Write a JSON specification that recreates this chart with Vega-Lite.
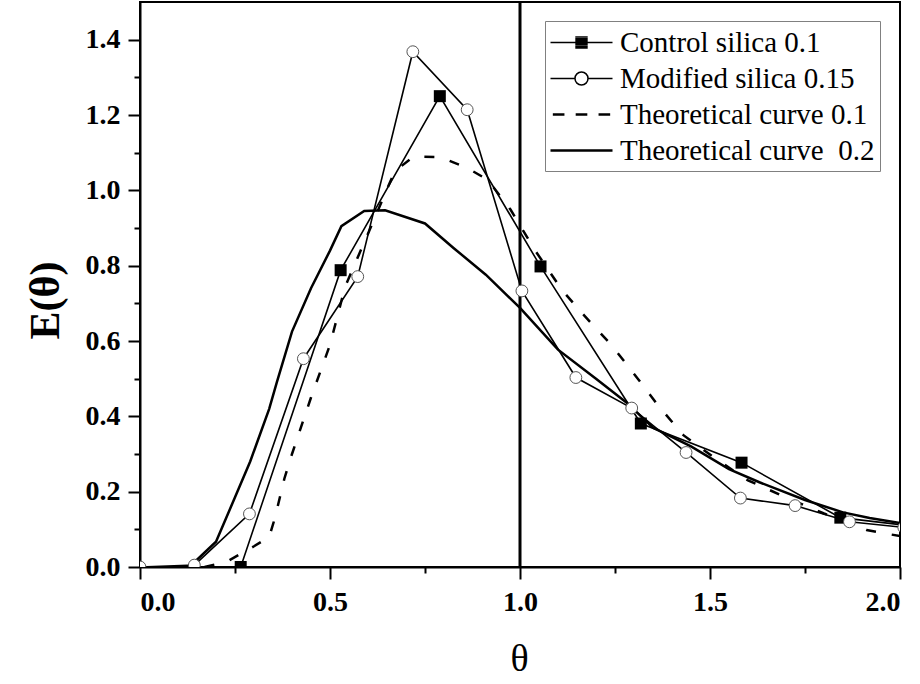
{
  "$schema": "https://vega.github.io/schema/vega-lite/v6.json",
  "width": 760,
  "height": 565,
  "autosize": {"type": "none"},
  "padding": {"left": 140, "top": 2, "right": 20, "bottom": 117},
  "background": "white",
  "config": {
    "view": {"stroke": "black", "strokeWidth": 2},
    "axis": {
      "domainColor": "black", "domainWidth": 2, "tickColor": "black", "tickWidth": 2, "grid": false,
      "labelFont": "Liberation Serif", "labelFontWeight": "bold", "labelFontSize": 28, "labelColor": "black",
      "titleFont": "Liberation Serif", "titleColor": "black"
    },
    "legend": {
      "orient": "none", "legendX": 405, "legendY": 19,
      "padding": 5, "strokeColor": "#808080", "strokeWidth": 1, "fillColor": "white",
      "rowPadding": 4, "labelFont": "Liberation Serif", "labelFontSize": 29, "labelColor": "black", "labelLimit": 0,
      "symbolSize": 961, "symbolStrokeWidth": 1.5, "symbolStrokeColor": "black", "symbolFillColor": "transparent",
      "symbolOffset": 15, "labelOffset": 22, "symbolOpacity": 1
    }
  },
  "datasets": {
    "series": [
      {"series": "Control silica 0.1", "x": 0.265, "y": 0.0},
      {"series": "Control silica 0.1", "x": 0.528, "y": 0.788},
      {"series": "Control silica 0.1", "x": 0.789, "y": 1.25},
      {"series": "Control silica 0.1", "x": 1.054, "y": 0.798},
      {"series": "Control silica 0.1", "x": 1.318, "y": 0.381},
      {"series": "Control silica 0.1", "x": 1.583, "y": 0.277},
      {"series": "Control silica 0.1", "x": 1.843, "y": 0.131},
      {"series": "Control silica 0.1", "x": 2.107, "y": 0.1},
      {"series": "Modified silica 0.15", "x": 0.0, "y": 0.0},
      {"series": "Modified silica 0.15", "x": 0.143, "y": 0.005},
      {"series": "Modified silica 0.15", "x": 0.288, "y": 0.141},
      {"series": "Modified silica 0.15", "x": 0.43, "y": 0.553},
      {"series": "Modified silica 0.15", "x": 0.573, "y": 0.771},
      {"series": "Modified silica 0.15", "x": 0.718, "y": 1.368},
      {"series": "Modified silica 0.15", "x": 0.861, "y": 1.214},
      {"series": "Modified silica 0.15", "x": 1.005, "y": 0.733},
      {"series": "Modified silica 0.15", "x": 1.147, "y": 0.503},
      {"series": "Modified silica 0.15", "x": 1.294, "y": 0.422},
      {"series": "Modified silica 0.15", "x": 1.437, "y": 0.304},
      {"series": "Modified silica 0.15", "x": 1.58, "y": 0.183},
      {"series": "Modified silica 0.15", "x": 1.724, "y": 0.163},
      {"series": "Modified silica 0.15", "x": 1.867, "y": 0.12},
      {"series": "Modified silica 0.15", "x": 2.01, "y": 0.105},
      {"series": "Theoretical curve 0.1", "x": 0.17, "y": 0.0},
      {"series": "Theoretical curve 0.1", "x": 0.23, "y": 0.015},
      {"series": "Theoretical curve 0.1", "x": 0.3, "y": 0.055},
      {"series": "Theoretical curve 0.1", "x": 0.34, "y": 0.08},
      {"series": "Theoretical curve 0.1", "x": 0.355, "y": 0.13},
      {"series": "Theoretical curve 0.1", "x": 0.38, "y": 0.235},
      {"series": "Theoretical curve 0.1", "x": 0.4, "y": 0.3},
      {"series": "Theoretical curve 0.1", "x": 0.45, "y": 0.45},
      {"series": "Theoretical curve 0.1", "x": 0.5, "y": 0.59},
      {"series": "Theoretical curve 0.1", "x": 0.54, "y": 0.745},
      {"series": "Theoretical curve 0.1", "x": 0.6, "y": 0.885},
      {"series": "Theoretical curve 0.1", "x": 0.67, "y": 1.05},
      {"series": "Theoretical curve 0.1", "x": 0.72, "y": 1.09},
      {"series": "Theoretical curve 0.1", "x": 0.79, "y": 1.088},
      {"series": "Theoretical curve 0.1", "x": 0.86, "y": 1.06},
      {"series": "Theoretical curve 0.1", "x": 0.915, "y": 1.028},
      {"series": "Theoretical curve 0.1", "x": 0.975, "y": 0.949},
      {"series": "Theoretical curve 0.1", "x": 1.04, "y": 0.84},
      {"series": "Theoretical curve 0.1", "x": 1.11, "y": 0.736},
      {"series": "Theoretical curve 0.1", "x": 1.165, "y": 0.672},
      {"series": "Theoretical curve 0.1", "x": 1.24, "y": 0.59},
      {"series": "Theoretical curve 0.1", "x": 1.31, "y": 0.5},
      {"series": "Theoretical curve 0.1", "x": 1.36, "y": 0.433},
      {"series": "Theoretical curve 0.1", "x": 1.43, "y": 0.35},
      {"series": "Theoretical curve 0.1", "x": 1.513, "y": 0.289},
      {"series": "Theoretical curve 0.1", "x": 1.6, "y": 0.23},
      {"series": "Theoretical curve 0.1", "x": 1.715, "y": 0.178},
      {"series": "Theoretical curve 0.1", "x": 1.8, "y": 0.142},
      {"series": "Theoretical curve 0.1", "x": 1.912, "y": 0.098},
      {"series": "Theoretical curve 0.1", "x": 2.0, "y": 0.082},
      {"series": "Theoretical curve \u00a00.2", "x": 0.13, "y": 0.0},
      {"series": "Theoretical curve \u00a00.2", "x": 0.2, "y": 0.067},
      {"series": "Theoretical curve \u00a00.2", "x": 0.25, "y": 0.185},
      {"series": "Theoretical curve \u00a00.2", "x": 0.29, "y": 0.28},
      {"series": "Theoretical curve \u00a00.2", "x": 0.34, "y": 0.42},
      {"series": "Theoretical curve \u00a00.2", "x": 0.36, "y": 0.49},
      {"series": "Theoretical curve \u00a00.2", "x": 0.4, "y": 0.625},
      {"series": "Theoretical curve \u00a00.2", "x": 0.45, "y": 0.74},
      {"series": "Theoretical curve \u00a00.2", "x": 0.5, "y": 0.84},
      {"series": "Theoretical curve \u00a00.2", "x": 0.53, "y": 0.905},
      {"series": "Theoretical curve \u00a00.2", "x": 0.59, "y": 0.945},
      {"series": "Theoretical curve \u00a00.2", "x": 0.645, "y": 0.947},
      {"series": "Theoretical curve \u00a00.2", "x": 0.75, "y": 0.912},
      {"series": "Theoretical curve \u00a00.2", "x": 0.825, "y": 0.847},
      {"series": "Theoretical curve \u00a00.2", "x": 0.91, "y": 0.776},
      {"series": "Theoretical curve \u00a00.2", "x": 1.0, "y": 0.688},
      {"series": "Theoretical curve \u00a00.2", "x": 1.1, "y": 0.577},
      {"series": "Theoretical curve \u00a00.2", "x": 1.2, "y": 0.5},
      {"series": "Theoretical curve \u00a00.2", "x": 1.28, "y": 0.437},
      {"series": "Theoretical curve \u00a00.2", "x": 1.35, "y": 0.37},
      {"series": "Theoretical curve \u00a00.2", "x": 1.45, "y": 0.32},
      {"series": "Theoretical curve \u00a00.2", "x": 1.55, "y": 0.26},
      {"series": "Theoretical curve \u00a00.2", "x": 1.63, "y": 0.225},
      {"series": "Theoretical curve \u00a00.2", "x": 1.75, "y": 0.178},
      {"series": "Theoretical curve \u00a00.2", "x": 1.85, "y": 0.145},
      {"series": "Theoretical curve \u00a00.2", "x": 1.92, "y": 0.13},
      {"series": "Theoretical curve \u00a00.2", "x": 2.0, "y": 0.117}
    ],
    "legendrows": [
      {"s": "Control silica 0.1", "x": null, "y": null},
      {"s": "Modified silica 0.15", "x": null, "y": null},
      {"s": "Theoretical curve 0.1", "x": null, "y": null},
      {"s": "Theoretical curve \u00a00.2", "x": null, "y": null}
    ],
    "vline": [{"x": 1.0}]
  },
  "resolve": {"axis": {"x": "independent", "y": "independent"}},
  "layer": [
    {
      "data": {"name": "vline"},
      "mark": {"type": "rule", "strokeWidth": 3, "color": "black"},
      "encoding": {
        "x": {"field": "x", "type": "quantitative", "scale": {"domain": [0, 2], "nice": false, "zero": false},
              "axis": {"orient": "bottom", "values": [0.25, 0.75, 1.25, 1.75], "labels": false, "domain": false, "tickSize": 6, "title": null}}
      }
    },
    {
      "data": {"name": "series"},
      "transform": [{"filter": "datum.series === 'Theoretical curve \u00a00.2'"}],
      "mark": {"type": "line", "strokeWidth": 2.5, "color": "black", "clip": true},
      "encoding": {
        "x": {"field": "x", "type": "quantitative", "scale": {"domain": [0, 2], "nice": false, "zero": false},
              "axis": {"orient": "bottom", "values": [0, 0.5, 1, 1.5, 2], "format": ".1f", "tickSize": 12, "labelPadding": 9,
                       "title": "θ", "titleFontSize": 38, "titleFontWeight": "normal", "titleX": 379, "titleY": 92,
                       "titleBaseline": "middle", "titleAlign": "center"}},
        "y": {"field": "y", "type": "quantitative", "scale": {"domain": [0, 1.5], "nice": false, "zero": false},
              "axis": {"orient": "left", "values": [0, 0.2, 0.4, 0.6, 0.8, 1.0, 1.2, 1.4], "format": ".1f", "tickSize": 12, "labelPadding": 8,
                       "title": "E(θ)", "titleFontSize": 42, "titleFontWeight": "bold", "titleX": -95, "titleY": 298,
                       "titleBaseline": "middle", "titleAlign": "center", "titleAngle": -90}}
      }
    },
    {
      "data": {"name": "series"},
      "transform": [{"filter": "datum.series === 'Theoretical curve 0.1'"}],
      "mark": {"type": "line", "strokeWidth": 2.5, "color": "black", "strokeDash": [10, 16], "clip": true},
      "encoding": {
        "x": {"field": "x", "type": "quantitative", "scale": {"domain": [0, 2], "nice": false, "zero": false}, "axis": null},
        "y": {"field": "y", "type": "quantitative", "scale": {"domain": [0, 1.5], "nice": false, "zero": false},
              "axis": {"orient": "left", "values": [0.1, 0.3, 0.5, 0.7, 0.9, 1.1, 1.3], "labels": false, "domain": false, "tickSize": 6, "title": null}}
      }
    },
    {
      "data": {"name": "series"},
      "transform": [{"filter": "datum.series === 'Control silica 0.1'"}],
      "mark": {"type": "line", "strokeWidth": 1.6, "color": "black", "clip": true},
      "encoding": {
        "x": {"field": "x", "type": "quantitative", "scale": {"domain": [0, 2], "nice": false, "zero": false}, "axis": null},
        "y": {"field": "y", "type": "quantitative", "scale": {"domain": [0, 1.5], "nice": false, "zero": false}, "axis": null}
      }
    },
    {
      "data": {"name": "series"},
      "transform": [{"filter": "datum.series === 'Modified silica 0.15'"}],
      "mark": {"type": "line", "strokeWidth": 1.6, "color": "black", "clip": true},
      "encoding": {
        "x": {"field": "x", "type": "quantitative", "scale": {"domain": [0, 2], "nice": false, "zero": false}, "axis": null},
        "y": {"field": "y", "type": "quantitative", "scale": {"domain": [0, 1.5], "nice": false, "zero": false}, "axis": null}
      }
    },
    {
      "data": {"name": "series"},
      "transform": [{"filter": "datum.series === 'Control silica 0.1'"}],
      "mark": {"type": "point", "shape": "square", "size": 144, "filled": true, "color": "black", "opacity": 1, "clip": true},
      "encoding": {
        "x": {"field": "x", "type": "quantitative", "scale": {"domain": [0, 2], "nice": false, "zero": false}, "axis": null},
        "y": {"field": "y", "type": "quantitative", "scale": {"domain": [0, 1.5], "nice": false, "zero": false}, "axis": null}
      }
    },
    {
      "data": {"name": "series"},
      "transform": [{"filter": "datum.series === 'Modified silica 0.15'"}],
      "mark": {"type": "point", "shape": "circle", "size": 140, "filled": false, "fill": "white", "fillOpacity": 1, "stroke": "#555555", "strokeWidth": 1, "opacity": 1, "clip": true},
      "encoding": {
        "x": {"field": "x", "type": "quantitative", "scale": {"domain": [0, 2], "nice": false, "zero": false}, "axis": null},
        "y": {"field": "y", "type": "quantitative", "scale": {"domain": [0, 1.5], "nice": false, "zero": false}, "axis": null}
      }
    },
    {
      "data": {"name": "legendrows"},
      "mark": {"type": "point", "filled": false, "stroke": "black", "strokeWidth": 1.5},
      "encoding": {
        "x": {"field": "x", "type": "quantitative", "scale": {"domain": [0, 2], "nice": false, "zero": false}, "axis": null},
        "y": {"field": "y", "type": "quantitative", "scale": {"domain": [0, 1.5], "nice": false, "zero": false}, "axis": null},
        "shape": {
          "field": "s", "type": "nominal",
          "scale": {
            "domain": ["Control silica 0.1", "Modified silica 0.15", "Theoretical curve 0.1", "Theoretical curve \u00a00.2"],
            "range": [
              "M-2,0H2M-0.4,-0.35H0.4M-0.4,-0.25H0.4M-0.4,-0.15H0.4M-0.4,-0.05H0.4M-0.4,0.05H0.4M-0.4,0.15H0.4M-0.4,0.25H0.4M-0.4,0.35H0.4",
              "M-2,0H-0.42M0.42,0H2M0.42,0A0.42,0.42,0,1,1,-0.42,0A0.42,0.42,0,1,1,0.42,0",
              "M-1.85,-0.04H-1.1M-1.85,0.04H-1.1M-0.375,-0.04H0.375M-0.375,0.04H0.375M1.1,-0.04H1.85M1.1,0.04H1.85",
              "M-2,-0.04H2M-2,0.04H2"
            ]
          },
          "legend": {"title": null}
        }
      }
    }
  ]
}
